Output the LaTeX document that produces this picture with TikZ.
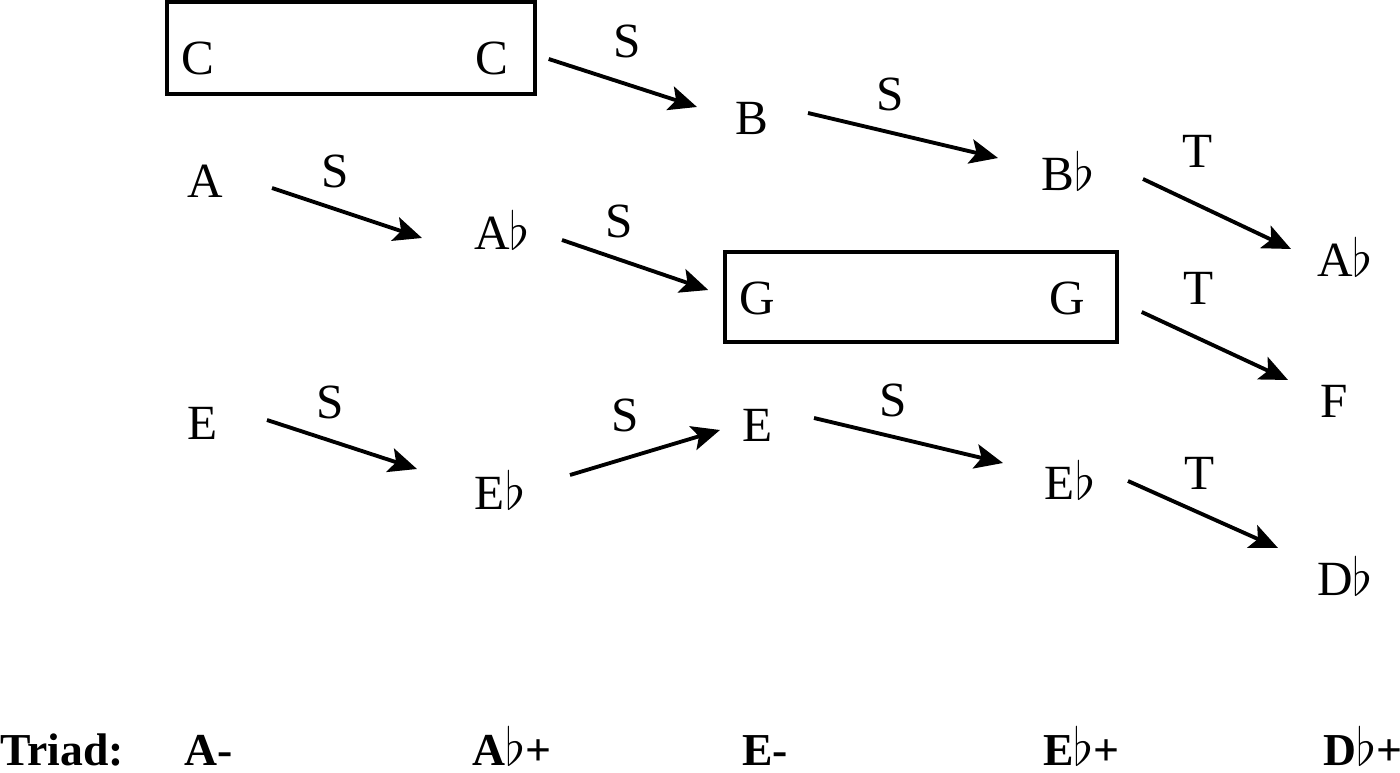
\documentclass[tikz,border=0pt]{standalone}
\usepackage{fontspec}
\setmainfont{Liberation Serif}
\usetikzlibrary{positioning}
\usetikzlibrary{arrows.meta}
\newcommand{\flt}{\scalebox{1.2}{$\flat$}}
\tikzset{note/.style={anchor=base, font=\fontsize{28}{34}\selectfont},
         triad/.style={anchor=base west, inner sep=0pt, font=\bfseries\fontsize{26}{31}\selectfont},
         chordbox/.style={draw, line width=2pt, inner sep=0pt},
         lbl/.style={above=11pt, inner sep=0pt, pos=.42, font=\fontsize{28}{34}\selectfont},
         every edge/.style={draw, -{Stealth[length=16pt,width=14pt,inset=3.5pt]}, line width=2.2pt} }

\begin{document}
\begin{tikzpicture}[x=0.02cm, y=-0.02cm]
    \useasboundingbox (0,0) rectangle (1400,773);
    % notes
    \node[chordbox, minimum width=7.36cm, minimum height=1.84cm] (Cbox) at (351,48) {};
    \node[note] (C1) at (198,75) {C};
    \node[note] (C2) at (492,75) {C};
    \node[note] (B) at (752,135) {B};
    \node[note] (Bb) at (1068,191) {B\flt};
    \node[note] (A) at (205,198) {A};
    \node[note] (Ab) at (502,250) {A\flt};
    \node[chordbox, minimum width=7.84cm, minimum height=1.8cm] (Gbox) at (921,297) {};
    \node[note] (G1) at (757,315) {G};
    \node[note] (G2) at (1067,315) {G};
    \node[note] (Ab2) at (1345,277) {A\flt};
    \node[note] (F) at (1334,418) {F};
    \node[note] (E) at (203,439) {E};
    \node[note] (Eb) at (500,509) {E\flt};
    \node[note] (E2) at (758,441) {E};
    \node[note] (Eb2) at (1070,500) {E\flt};
    \node[note] (Db) at (1345,595) {D\flt};
    % triads
    \node[triad] (tri) at (0,765) {Triad:};
    \node[triad] (tA) at (184,765) {A-};
    \node[triad] (tAb) at (472,765) {A\flt+};
    \node[triad] (tE) at (742,765) {E-};
    \node[triad] (tEb) at (1043,765) {E\flt+};
    \node[triad] (tDb) at (1323,765) {D\flt+};
    % moves
    \draw ([shift={(12,11)}]Cbox.east) edge node[lbl, pos=.53, above=14pt] {S} ([shift={(-55,-28)}]B.base);
    \draw ([shift={(56,-22)}]B.base) edge node[lbl, pos=.43] {S} ([shift={(-70,-33)}]Bb.base);
    \draw ([shift={(75,-12)}]Bb.base) edge node[lbl, pos=.37, above=20pt] {T} ([shift={(-54,-28)}]Ab2.base);
    \draw ([shift={(67,-10)}]A.base) edge node[lbl] {S} ([shift={(-80,-12)}]Ab.base);
    \draw ([shift={(60,-10)}]Ab.base) edge node[lbl, pos=.39] {S} ([shift={(-15,-7)}]Gbox.west);
    \draw ([shift={(23,15)}]Gbox.east) edge node[lbl, pos=.39, above=18pt] {T} ([shift={(-46,-38)}]F.base);
    \draw ([shift={(64,-19)}]E.base) edge node[lbl] {S} ([shift={(-83,-40)}]Eb.base);
    \draw ([shift={(70,-34)}]Eb.base) edge node[lbl, pos=.37, above=14pt] {S} ([shift={(-38,-11)}]E2.base);
    \draw ([shift={(56,-23)}]E2.base) edge node[lbl, above=10pt] {S} ([shift={(-67,-37)}]Eb2.base);
    \draw ([shift={(58,-19)}]Eb2.base) edge node[lbl, pos=.48, above=12.5pt] {T} ([shift={(-67,-47)}]Db.base);
\end{tikzpicture}
\end{document}
